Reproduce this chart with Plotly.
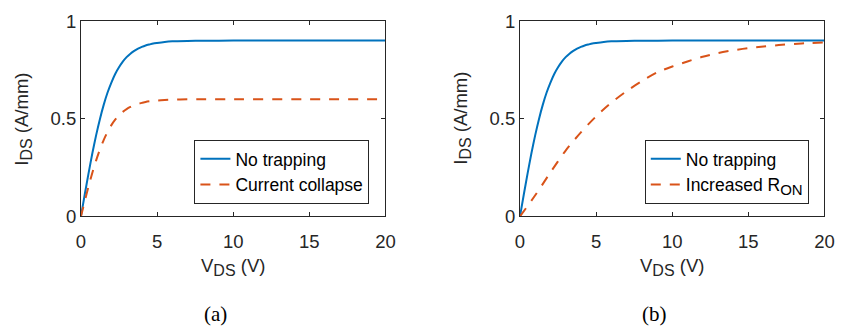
import plotly.graph_objects as go

# ---------------- data ----------------
v_fine = [0, 0.25, 0.5, 0.75, 1.0, 1.25, 1.5, 1.75, 2.0, 2.25, 2.5, 2.75, 3.0,
          3.25, 3.5, 3.75, 4.0, 4.25, 4.5, 4.75, 5.0, 5.5, 6, 7, 8, 10, 15, 20]
i_no_trapping = [0, 0.112, 0.220, 0.323, 0.416, 0.499, 0.572, 0.634, 0.685, 0.729,
                 0.763, 0.792, 0.815, 0.833, 0.847, 0.859, 0.868, 0.875, 0.880,
                 0.885, 0.888, 0.893, 0.896, 0.898, 0.899, 0.900, 0.900, 0.900]
i_current_collapse = [0, 0.078, 0.153, 0.223, 0.287, 0.343, 0.392, 0.433, 0.467,
                      0.495, 0.517, 0.535, 0.549, 0.560, 0.569, 0.576, 0.581,
                      0.586, 0.589, 0.591, 0.593, 0.596, 0.598, 0.599, 0.600,
                      0.600, 0.600, 0.600]
v_coarse = [0, 1, 2, 3, 4, 5, 6, 7, 8, 9, 10, 11, 12, 13, 14, 15, 16, 17, 18, 19, 20]
i_increased_ron = [0, 0.108, 0.225, 0.337, 0.430, 0.512, 0.582, 0.641, 0.692, 0.737,
                   0.767, 0.793, 0.817, 0.836, 0.850, 0.861, 0.869, 0.877, 0.883,
                   0.887, 0.890]

x_ticks = [0, 5, 10, 15, 20]
y_ticks = [0, 0.5, 1]
y_tick_text = ["0", "0.5", "1"]
captions = ["(a)", "(b)"]

BLUE = "#0072BD"
RED = "#D95319"
AX = "#262626"
SANS = "Liberation Sans, Arial, sans-serif"
SERIF = "Liberation Serif, DejaVu Serif, serif"

W, H = 845, 331
panels = [(77.3, 387.3), (524.3, 834.3)]
top_px, bot_px = 10.7, 219.3

SUB = "<sub><span style='font-size:16px'>{}</span></sub>"
SUB_LEG = "<sub><span style='font-size:15px'>{}</span></sub>"

fig = go.Figure()

fig.add_trace(go.Scatter(x=v_fine, y=i_no_trapping, mode="lines", name="No trapping",
                         line=dict(color=BLUE, width=2, shape="spline", smoothing=0.6),
                         xaxis="x", yaxis="y", legend="legend"))
fig.add_trace(go.Scatter(x=v_fine, y=i_current_collapse, mode="lines", name="Current collapse",
                         line=dict(color=RED, width=2, dash="10px,9px", shape="spline", smoothing=0.6),
                         xaxis="x", yaxis="y", legend="legend"))
fig.add_trace(go.Scatter(x=v_fine, y=i_no_trapping, mode="lines", name="No trapping",
                         line=dict(color=BLUE, width=2, shape="spline", smoothing=0.6),
                         xaxis="x2", yaxis="y2", legend="legend2"))
fig.add_trace(go.Scatter(x=v_coarse, y=i_increased_ron, mode="lines",
                         name="Increased R" + SUB_LEG.format("ON"),
                         line=dict(color=RED, width=2, dash="10px,9px", shape="spline", smoothing=0.8),
                         xaxis="x2", yaxis="y2", legend="legend2"))

ydom = [1 - bot_px / H, 1 - top_px / H]


def xaxis(dom, anchor):
    return dict(domain=dom, anchor=anchor, range=[0, 20], tickvals=x_ticks,
                ticks="inside", ticklen=4, tickcolor=AX, tickwidth=1,
                showline=True, linecolor=AX, linewidth=1, mirror="ticks",
                showgrid=False, zeroline=False, ticklabelstandoff=8,
                tickfont=dict(family=SANS, size=18.5, color=AX))


def yaxis(anchor):
    return dict(domain=ydom, anchor=anchor, range=[0, 1], tickvals=y_ticks,
                ticktext=y_tick_text,
                ticks="inside", ticklen=4, tickcolor=AX, tickwidth=1,
                showline=True, linecolor=AX, linewidth=1, mirror="ticks",
                showgrid=False, zeroline=False,
                tickfont=dict(family=SANS, size=18.5, color=AX))


leg_common = dict(bgcolor="white", bordercolor=AX, borderwidth=1,
                  font=dict(family=SANS, size=17.5, color="black"),
                  xanchor="right", yanchor="bottom", tracegroupgap=0)

annotations = []
for k, (l, r) in enumerate(panels):
    cx = (l + r) / 2
    annotations.append(dict(text="V" + SUB.format("DS") + " (V)", x=cx / W, y=1 - 273 / H,
                            xref="paper", yref="paper", showarrow=False,
                            xanchor="center", yanchor="middle",
                            font=dict(family=SANS, size=18.5, color=AX)))
    annotations.append(dict(text="I" + SUB.format("DS") + " (A/mm)", x=(l - 59) / W, y=1 - 115 / H,
                            xref="paper", yref="paper", showarrow=False, textangle=-90,
                            xanchor="center", yanchor="middle",
                            font=dict(family=SANS, size=18.5, color=AX)))
    annotations.append(dict(text=captions[k], x=(cx - 18) / W, y=1 - 324 / H,
                            xref="paper", yref="paper", showarrow=False,
                            xanchor="center", yanchor="middle",
                            font=dict(family=SERIF, size=21, color="black")))

fig.update_layout(
    width=W, height=H, margin=dict(l=0, r=0, t=0, b=0),
    paper_bgcolor="white", plot_bgcolor="white",
    xaxis=xaxis([panels[0][0] / W, panels[0][1] / W], "y"),
    yaxis=yaxis("x"),
    xaxis2=xaxis([panels[1][0] / W, panels[1][1] / W], "y2"),
    yaxis2=yaxis("x2"),
    legend=dict(x=371 / W, y=1 - 206 / H, **leg_common),
    legend2=dict(x=818.3 / W, y=1 - 206 / H, **leg_common),
    annotations=annotations,
    showlegend=True,
)

fig.write_html("out.html")
